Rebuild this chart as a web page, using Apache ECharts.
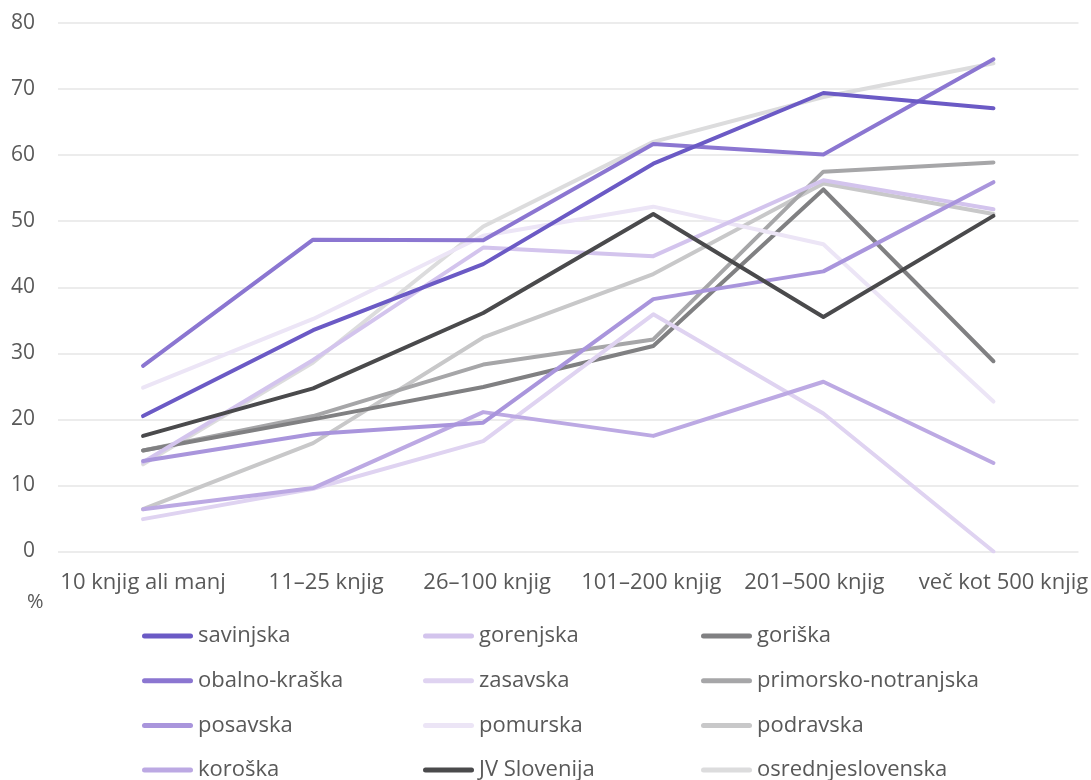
<!DOCTYPE html>
<html><head><meta charset="utf-8">
<script src="https://cdn.jsdelivr.net/npm/echarts@6/dist/echarts.min.js"></script>
<style>html,body{margin:0;padding:0;background:#fff}#c{width:1091px;height:780px}</style>
</head><body><div id="c"></div>
<script>
const categories = ['10 knjig ali manj','11–25 knjig','26–100 knjig','101–200 knjig','201–500 knjig','več kot 500 knjig'];
const yTicks = [0,10,20,30,40,50,60,70,80];
const savinjska = [20.5, 33.5, 43.5, 58.7, 69.4, 67.1];
const obalnoKraska = [28.1, 47.2, 47.1, 61.7, 60.1, 74.5];
const posavska = [13.7, 17.8, 19.5, 38.2, 42.4, 55.9];
const koroska = [6.4, 9.6, 21.1, 17.5, 25.7, 13.4];
const gorenjska = [13.5, 29.0, 46.0, 44.7, 56.2, 51.8];
const zasavska = [4.9, 9.5, 16.7, 35.9, 20.9, 0];
const pomurska = [24.8, 35.2, 47.8, 52.2, 46.5, 22.7];
const jvSlovenija = [17.5, 24.7, 36.1, 51.1, 35.5, 50.8];
const goriska = [15.3, 20.0, 24.9, 31.1, 54.8, 28.8];
const primorskoNotranjska = [15.3, 20.5, 28.3, 32.1, 57.5, 58.9];
const podravska = [6.4, 16.4, 32.4, 42.0, 55.7, 51.1];
const osrednjeslovenska = [13.2, 28.6, 49.2, 62.0, 68.8, 73.9];

const seriesDefs = [
  ['savinjska', savinjska, '#6b5ac5'],
  ['obalno-kraška', obalnoKraska, '#8b76d1'],
  ['posavska', posavska, '#a995dc'],
  ['koroška', koroska, '#bca9e3'],
  ['gorenjska', gorenjska, '#d3c4ed'],
  ['zasavska', zasavska, '#dfd3f1'],
  ['pomurska', pomurska, '#ece5f6'],
  ['JV Slovenija', jvSlovenija, '#4a4a4c'],
  ['goriška', goriska, '#808082'],
  ['primorsko-notranjska', primorskoNotranjska, '#a6a6a8'],
  ['podravska', podravska, '#c8c8c9'],
  ['osrednjeslovenska', osrednjeslovenska, '#dcdcdd']
];
const drawOrder = ['osrednjeslovenska','podravska','primorsko-notranjska','goriška','pomurska','zasavska','gorenjska','koroška','posavska','JV Slovenija','obalno-kraška','savinjska'];

const font = '"Open Sans", sans-serif';
const textColor = '#595959';
const capsule = 'path://M2.5,0 L48.5,0 A2.5,2.5 0 0 1 48.5,5 L2.5,5 A2.5,2.5 0 0 1 2.5,0 Z';
// horizontal nudges of category labels (px), as in the reference layout
const labelNudge = [0, 13, 4, -2, -9, 10];

function legendCol(names, left) {
  return {
    orient: 'vertical', left: left, top: 620, height: 200, itemGap: 22.7,
    itemWidth: 51, itemHeight: 5, icon: capsule,
    textStyle: {fontFamily: font, fontSize: 22, color: textColor, lineHeight: 22, padding: [0,0,0,0]},
    data: names
  };
}

const chart = echarts.init(document.getElementById('c'), null, {renderer: 'canvas'});
chart.setOption({
  animation: false,
  backgroundColor: '#fff',
  color: seriesDefs.map(d => d[2]),
  title: {text: '%', left: 22, top: 587, textStyle: {fontFamily: font, fontSize: 20, fontWeight: 'normal', color: textColor}},
  grid: {left: 58, right: 10, top: 23, bottom: 228.5, containLabel: false},
  legend: [
    legendCol(['savinjska','obalno-kraška','posavska','koroška'], 137),
    legendCol(['gorenjska','zasavska','pomurska','JV Slovenija'], 418),
    legendCol(['goriška','primorsko-notranjska','podravska','osrednjeslovenska'], 696)
  ],
  xAxis: {
    type: 'category',
    data: categories.map((c, i) => ({
      value: c,
      textStyle: {padding: labelNudge[i] >= 0 ? [0, 0, 0, 2 * labelNudge[i]] : [0, -2 * labelNudge[i], 0, 0]}
    })),
    boundaryGap: true,
    axisLine: {show: false}, axisTick: {show: false},
    axisLabel: {fontFamily: font, fontSize: 22, color: textColor, margin: 20, interval: 0}
  },
  yAxis: {
    type: 'value', min: yTicks[0], max: yTicks[yTicks.length-1], interval: 10,
    axisLine: {show: false}, axisTick: {show: false},
    axisLabel: {fontFamily: font, fontSize: 21, color: textColor, margin: 23},
    splitLine: {lineStyle: {color: '#e6e6e6', width: 1.5}}
  },
  series: drawOrder.map(n => {
    const d = seriesDefs.find(s => s[0] === n);
    return {
      name: d[0], type: 'line', data: d[1], symbol: 'none', showSymbol: false,
      lineStyle: {color: d[2], width: 4, cap: 'round', join: 'round'},
      itemStyle: {color: d[2]}
    };
  })
});
</script></body></html>
